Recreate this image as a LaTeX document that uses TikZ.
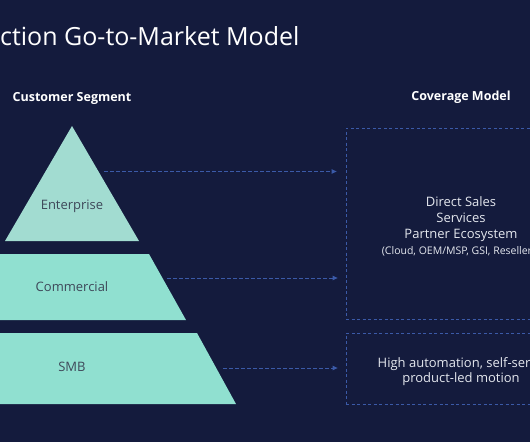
\documentclass[tikz,border=0pt]{standalone}
\usepackage{fontspec}
\setmainfont{Open Sans}
\usetikzlibrary{arrows.meta}

\definecolor{bgnavy}{HTML}{141B3D}
\definecolor{tealtop}{HTML}{A2DCD1}
\definecolor{tealbase}{HTML}{90E0D0}
\definecolor{dashblue}{HTML}{3B5AA8}
\definecolor{labelgrey}{HTML}{3E4859}
\definecolor{softwhite}{HTML}{E4E7EE}

\tikzset{
  seglabel/.style={text=labelgrey, font=\fontsize{13}{14}\selectfont},
  heading/.style={text=white, font=\bfseries\fontsize{12.5}{15}\selectfont},
  flow/.style={draw=dashblue, line width=0.8pt, dash pattern=on 3.5pt off 2.5pt,
    -{Triangle[length=5pt,width=4.5pt]}},
  coverbox/.style={draw=dashblue, line width=0.8pt, dash pattern=on 3pt off 2.5pt},
  covertext/.style={text=softwhite, align=center, font=\fontsize{13}{15.6}\selectfont},
}

\begin{document}
\begin{tikzpicture}[x=1pt,y=-1pt]
  \clip (0,0) rectangle (530,442);
  \fill[bgnavy] (0,0) rectangle (530,442);

  % title and column headings
  \node[anchor=base west, inner sep=0, text=white, font=\fontsize{25}{30}\selectfont]
    (title) at (0,45) {ction Go-to-Market Model};
  \node[heading] (seghead) at (72,98) {Customer Segment};
  \node[heading] (covhead) at (461,97) {Coverage Model};

  % pyramid
  \fill[tealtop] (72,126) -- (139,241) -- (5,241) -- cycle;
  \fill[tealbase] (-5,254) -- (149,254) -- (186,320) -- (-42,320) -- cycle;
  \fill[tealbase] (-53,333) -- (197,333) -- (236,404) -- (-92,404) -- cycle;

  \node[seglabel] (ent) at (72,206) {Enterprise};
  \node[seglabel] (com) at (72,287) {Commercial};
  \node[seglabel] (smb) at (72,367) {SMB};

  % coverage boxes
  \node[coverbox, minimum width=230pt, minimum height=191pt] (direct) at (461,223.5) {};
  \node[coverbox, minimum width=230pt, minimum height=71pt] (auto) at (461,368.5) {};
  \node[covertext] (directtxt) at (461,226.5)
    {Direct Sales\\Services\\Partner Ecosystem\\[0.5pt]
     {\fontsize{10.5}{13}\selectfont (Cloud, OEM/MSP, GSI, Resellers)}};
  \node[covertext] (autotxt) at (461,371.5)
    {High automation, self-serve\\product-led motion};

  % arrows
  \coordinate (entout) at (104,171.5);
  \coordinate (comout) at (167,278);
  \coordinate (smbout) at (223,368);
  \draw[flow, shorten >=9pt] (entout) -- (entout -| direct.west);
  \draw[flow, shorten >=8pt] (comout) -- (comout -| direct.west);
  \draw[flow, shorten >=8pt] (smbout) -- (smbout -| auto.west);
\end{tikzpicture}
\end{document}
